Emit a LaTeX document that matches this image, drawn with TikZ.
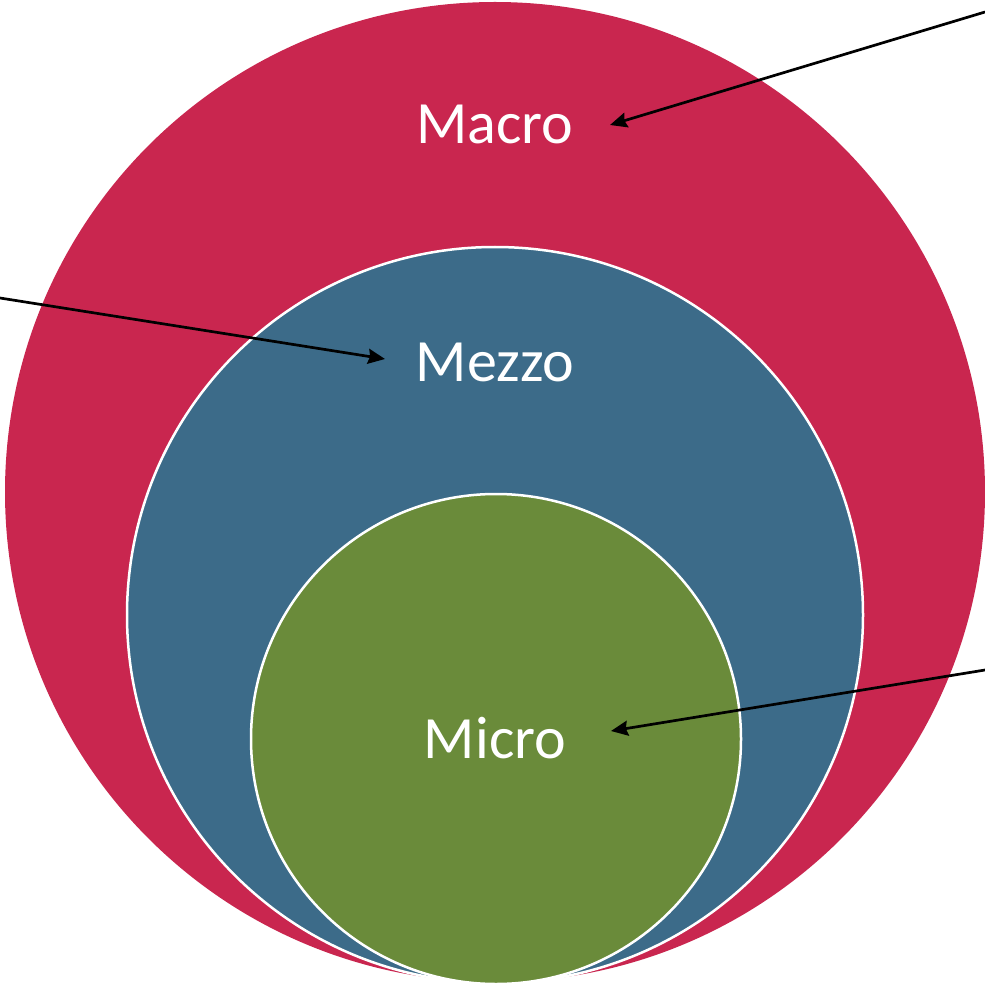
\documentclass[tikz,border=0pt]{standalone}
\usepackage{fontspec}
\setmainfont{Carlito}
\usetikzlibrary{arrows.meta}
\definecolor{macrored}{RGB}{201,38,79}
\definecolor{mezzoblue}{RGB}{60,107,137}
\definecolor{microgreen}{RGB}{106,139,58}
\begin{document}
\begin{tikzpicture}[x=1pt,y=-1pt,
  ring/.style={circle,inner sep=0pt,minimum size=#1},
  lbl/.style={text=white,font=\fontsize{60}{60}\selectfont,inner sep=0pt},
  pointer/.style={line width=2.7pt,-{Stealth[length=17pt,width=15pt,inset=2pt]}}]
\useasboundingbox (0,0) rectangle (985,984);
\node[ring=980pt,fill=macrored] (macro) at (495,492) {};
\node[ring=736pt,fill=mezzoblue,draw=white,line width=2.5pt] (mezzo) at (495,615) {};
\node[ring=490pt,fill=microgreen,draw=white,line width=2.5pt] (micro) at (496,739) {};
\node[lbl] (tmacro) at (495,124) {Macro};
\node[lbl] (tmezzo) at (495,362) {Mezzo};
\node[lbl] (tmicro) at (495,738) {Micro};
\coordinate (s1) at (985,12);
\coordinate (e1) at (610,125);
\coordinate (s2) at (0,298);
\coordinate (e2) at (385,359);
\coordinate (s3) at (985,670);
\coordinate (e3) at (611,731);
\draw[pointer] (s1) -- (e1);
\draw[pointer] (s2) -- (e2);
\draw[pointer] (s3) -- (e3);
\end{tikzpicture}
\end{document}
